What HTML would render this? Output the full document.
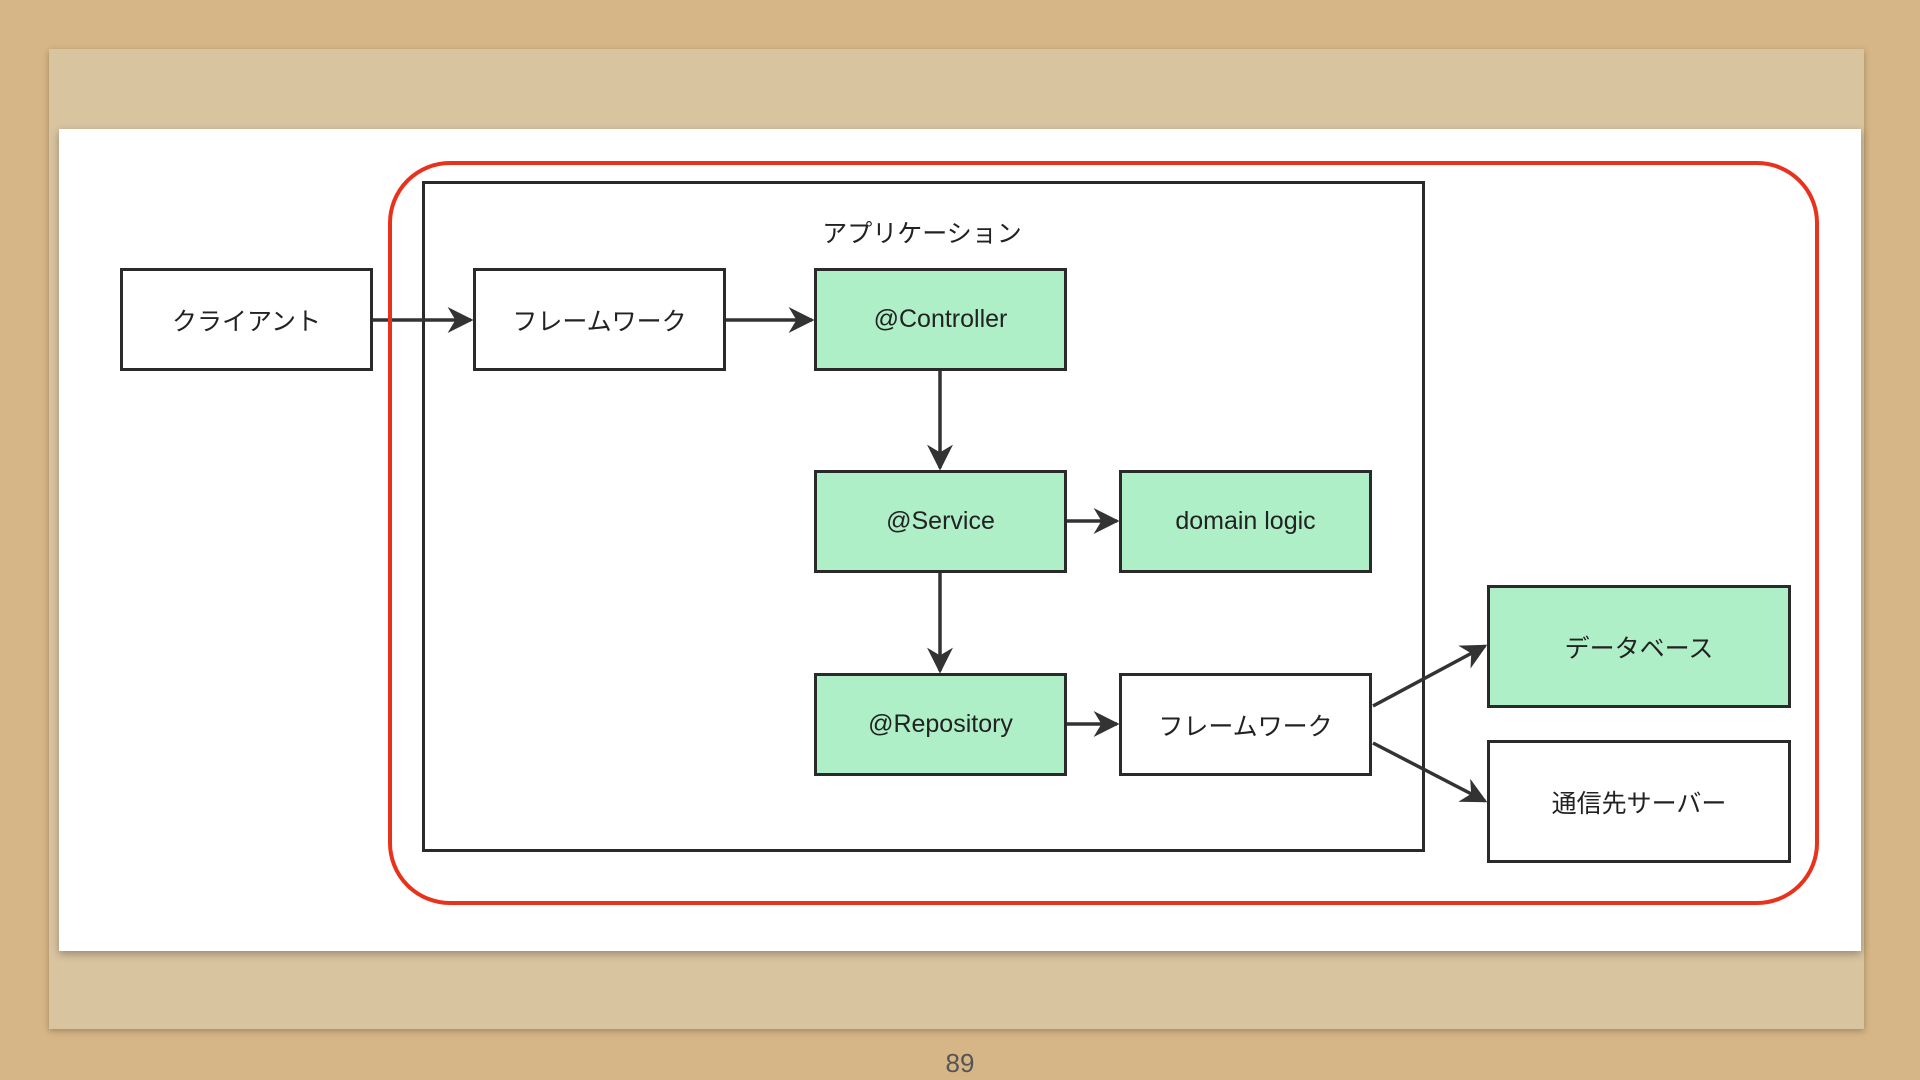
<!DOCTYPE html>
<html><head><meta charset="utf-8"><style>
html,body{margin:0;padding:0}
body{width:1920px;height:1080px;background:#d6b586;position:relative;overflow:hidden;font-family:"Liberation Sans","Noto Sans CJK JP",sans-serif}
.paper{position:absolute;left:49px;top:49px;width:1815px;height:980px;background:#d9c4a0;box-shadow:0 2px 6px rgba(0,0,0,.25)}
.white{position:absolute;left:59px;top:129px;width:1802px;height:822px;background:#fff;box-shadow:0 3px 8px rgba(0,0,0,.3)}
.b{position:absolute;box-sizing:border-box;border:3px solid #2a2a2a;background:#fff;display:flex;align-items:center;justify-content:center;font-size:25px;color:#222}
.g{background:#aeefc8}
.num{position:absolute;left:0;width:1920px;top:1048px;text-align:center;font-size:26px;color:#555}
</style></head><body>
<div class="paper"></div>
<div class="white"></div>
<div class="b" style="left:422px;top:181px;width:1003px;height:671px;border-width:3px"></div>
<div style="position:absolute;left:722px;width:400px;top:214px;text-align:center;font-size:25px;color:#222">アプリケーション</div>
<div class="b" style="left:120px;top:268px;width:253px;height:103px">クライアント</div>
<div class="b" style="left:473px;top:268px;width:253px;height:103px">フレームワーク</div>
<div class="b g" style="left:814px;top:268px;width:253px;height:103px">@Controller</div>
<div class="b g" style="left:814px;top:470px;width:253px;height:103px">@Service</div>
<div class="b g" style="left:1119px;top:470px;width:253px;height:103px">domain logic</div>
<div class="b g" style="left:814px;top:673px;width:253px;height:103px">@Repository</div>
<div class="b" style="left:1119px;top:673px;width:253px;height:103px">フレームワーク</div>
<div class="b g" style="left:1487px;top:585px;width:304px;height:123px">データベース</div>
<div class="b" style="left:1487px;top:740px;width:304px;height:123px">通信先サーバー</div>
<svg style="position:absolute;left:0;top:0" width="1920" height="1080">
<defs><marker id="a" markerWidth="10" markerHeight="10" refX="9" refY="5" orient="auto" markerUnits="userSpaceOnUse" viewBox="0 0 10 10"><path d="M0,0 L10,5 L0,10 L3,5z" fill="#333"/></marker>
<marker id="m" viewBox="0 0 10 10" refX="9" refY="5" markerWidth="26" markerHeight="26" orient="auto" markerUnits="userSpaceOnUse"><path d="M0,0 L10,5 L0,10 L3,5z" fill="#333"/></marker></defs>
<g stroke="#333" stroke-width="3.5" fill="none" marker-end="url(#m)">
<line x1="373" y1="320" x2="471" y2="320"/>
<line x1="726" y1="320" x2="812" y2="320"/>
<line x1="940" y1="371" x2="940" y2="468"/>
<line x1="940" y1="573" x2="940" y2="671"/>
<line x1="1067" y1="521" x2="1117" y2="521"/>
<line x1="1067" y1="724" x2="1117" y2="724"/>
<line x1="1373" y1="706" x2="1485" y2="646"/>
<line x1="1373" y1="743" x2="1485" y2="801"/>
</g>
<rect x="390" y="163" width="1427" height="740" rx="60" ry="60" fill="none" stroke="#e8331c" stroke-width="4"/>
</svg>
<div class="num">89</div>
</body></html>
